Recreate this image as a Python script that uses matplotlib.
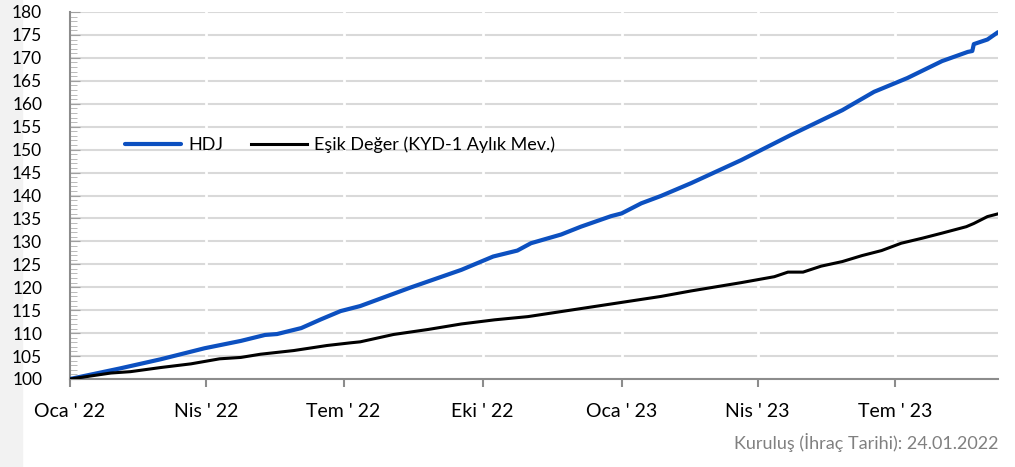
import numpy as np
import matplotlib
matplotlib.use('Agg')
import matplotlib.pyplot as plt
import pandas as pd
from matplotlib.patches import Rectangle
from matplotlib.ticker import MultipleLocator

plt.rcParams['font.family'] = ['Lato', 'DejaVu Sans']

# HDJ fund index
hdj_dates = ['2022-01-24', '2022-02-26', '2022-03-25', '2022-04-23', '2022-05-17',
             '2022-06-02', '2022-06-10', '2022-06-26', '2022-07-09', '2022-07-22',
             '2022-08-04', '2022-09-06', '2022-10-10', '2022-10-31', '2022-11-16',
             '2022-11-25', '2022-12-15', '2022-12-28', '2023-01-17', '2023-01-24',
             '2023-02-06', '2023-02-19', '2023-03-11', '2023-04-13',
             '2023-05-16', '2023-06-19', '2023-07-10', '2023-08-01', '2023-08-24',
             '2023-09-10', '2023-09-13', '2023-09-14', '2023-09-23', '2023-09-30']
hdj_values = [100.0, 102.3, 104.3, 106.7, 108.3,
              109.6, 109.8, 111.1, 113.0, 114.8,
              115.9, 119.9, 123.8, 126.7, 128.0,
              129.6, 131.5, 133.2, 135.5, 136.1,
              138.3, 139.9, 142.7, 147.7,
              153.2, 158.6, 162.6, 165.6, 169.3,
              171.3, 171.5, 173.0, 174.0, 175.6]

# threshold (KYD-1 monthly deposit)
esik_dates = ['2022-01-24', '2022-02-20', '2022-03-05', '2022-03-25', '2022-04-14',
              '2022-05-03', '2022-05-17', '2022-05-30', '2022-06-21', '2022-07-13',
              '2022-07-29', '2022-08-04', '2022-08-26', '2022-09-18', '2022-10-10',
              '2022-11-01', '2022-11-23', '2022-12-15', '2023-01-06', '2023-01-28',
              '2023-02-19', '2023-03-11', '2023-04-13', '2023-05-05', '2023-05-14',
              '2023-05-24', '2023-06-05', '2023-06-19', '2023-07-02', '2023-07-15',
              '2023-07-28', '2023-08-11', '2023-08-24',
              '2023-09-09', '2023-09-14', '2023-09-23', '2023-09-30']
esik_values = [100.0, 101.3, 101.6, 102.5, 103.3,
               104.4, 104.7, 105.4, 106.2, 107.3,
               107.9, 108.1, 109.7, 110.8, 112.0,
               112.9, 113.6, 114.7, 115.8, 116.9,
               118.0, 119.2, 121.0, 122.3, 123.3,
               123.3, 124.6, 125.6, 126.9, 128.0,
               129.6, 130.7, 131.8,
               133.2, 133.9, 135.4, 136.0]

tick_dates = ['2022-01-24', '2022-04-24', '2022-07-24', '2022-10-24',
              '2023-01-24', '2023-04-24', '2023-07-24']
tick_labels = ["Oca ' 22", "Nis ' 22", "Tem ' 22", "Eki ' 22",
               "Oca ' 23", "Nis ' 23", "Tem ' 23"]

hdj_x = pd.to_datetime(hdj_dates)
esik_x = pd.to_datetime(esik_dates)
ticks_x = pd.to_datetime(tick_dates)

fig = plt.figure(figsize=(10.15, 4.67), dpi=100)
# light grey strip on the far left, behind everything
fig.patches.append(Rectangle((0, 0), 22 / 1015, 1, transform=fig.transFigure,
                             color='#f2f2f2', zorder=-1))
ax = fig.add_axes([70 / 1015, 1 - 379 / 467, 928 / 1015, 367 / 467])
ax.patch.set_alpha(0)

ax.plot(hdj_x, hdj_values, color='#0c50c0', lw=3.0, label='HDJ', zorder=3,
        solid_capstyle='round')
ax.plot(esik_x, esik_values, color='black', lw=2.2,
        label='Eşik Değer (KYD-1 Aylık Mev.)', zorder=3)

ax.set_xlim(pd.Timestamp('2022-01-24'), pd.Timestamp('2023-09-30'))
ax.set_ylim(100, 180)
ax.yaxis.set_major_locator(MultipleLocator(5))
ax.yaxis.set_minor_locator(MultipleLocator(1))
ax.set_xticks(ticks_x)
ax.set_xticklabels(tick_labels)

ax.grid(axis='y', color='#d9d9d9', lw=1.5, zorder=1)
ax.set_axisbelow(True)
for t in ticks_x[1:]:
    ax.axvline(t, color='white', lw=2, zorder=1.5)

for s in ['top', 'right']:
    ax.spines[s].set_visible(False)
for s in ['left', 'bottom']:
    ax.spines[s].set_color('#8c8c8c')
    ax.spines[s].set_linewidth(1.5)

ax.tick_params(axis='y', which='major', direction='in', length=7, color='#a0a0a0',
               labelsize=12.5, pad=20)
ax.tick_params(axis='y', which='minor', direction='in', length=5, color='#b0b0b0')
ax.tick_params(axis='x', which='major', direction='out', length=6, width=1.5,
               color='#8c8c8c', labelsize=14, pad=11)

ax.legend(loc='center left', bbox_to_anchor=(0.052, 0.638), ncol=2, frameon=False,
          fontsize=13, handlelength=3.1, handletextpad=0.4, columnspacing=1.5,
          borderaxespad=0)

fig.text(998 / 1015, 1 - 443 / 467, 'Kuruluş (İhraç Tarihi): 24.01.2022',
         ha='right', va='center', color='#808080', fontsize=13)

fig.savefig('out.png', dpi=100)
